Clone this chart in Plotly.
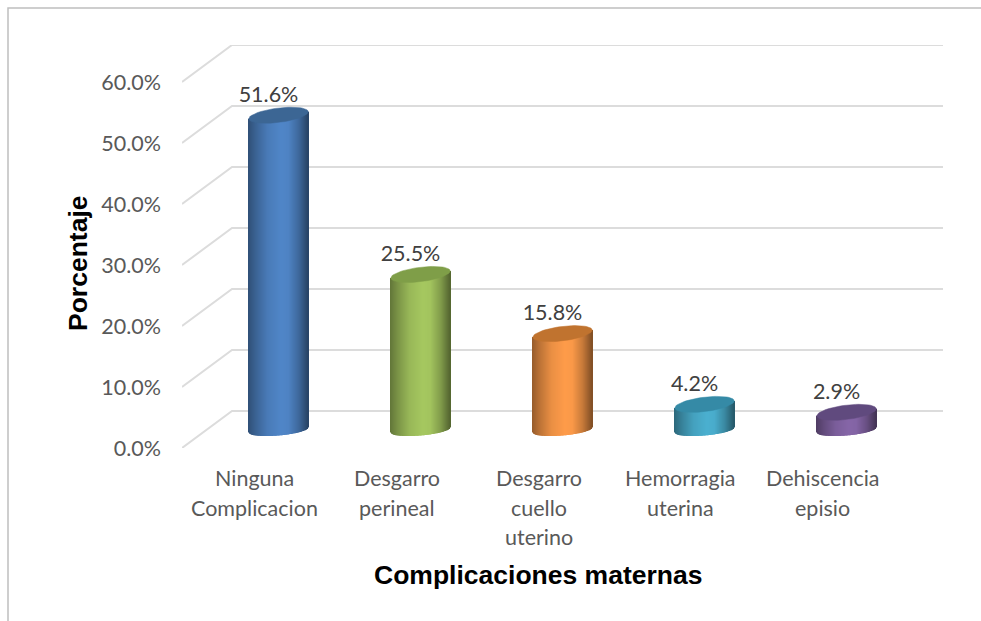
import numpy as np
import plotly.graph_objects as go

# values
categories = [
    ["Ninguna", "Complicacion"],
    ["Desgarro", "perineal"],
    ["Desgarro", "cuello", "uterino"],
    ["Hemorragia", "uterina"],
    ["Dehiscencia", "episio"],
]
values = [51.6, 25.5, 15.8, 4.2, 2.9]
tick_vals = [0, 10, 20, 30, 40, 50, 60]
tick_text = ["0.0%", "10.0%", "20.0%", "30.0%", "40.0%", "50.0%", "60.0%"]

body_rgb = [(80, 134, 200), (166, 200, 96), (255, 156, 74), (75, 176, 208), (134, 102, 168)]
cap_rgb = ["#3c6694", "#7f9e48", "#c0732f", "#358aa6", "#604a7e"]

# cylinder shading across the width (-1 left edge, 1 right edge)
shade_pos = [-1.0, -0.75, -0.35, 0.1, 0.35, 0.7, 1.0]
shade_val = [0.60, 0.74, 0.92, 1.00, 0.98, 0.78, 0.52]

# layout in pixels of the 981x621 picture
WIDTH, HEIGHT = 981, 621
PLOT_L, PLOT_R, PLOT_T, PLOT_B = 182, 943, 45, 448
PX_PER_CAT = 142.0
PX_PER_UNIT = 6.1
FIRST_CX = 278.5
DEPTH_X, DEPTH_Y = 50, 37   # floor depth of the 3D box
BASE_UP = 18                # cylinder base centre above the front floor edge
RX = 29.7
TEXT = "#595959"
GRID = "#dcdcdc"

x_range = [(PLOT_L - FIRST_CX) / PX_PER_CAT, (PLOT_R - FIRST_CX) / PX_PER_CAT]
y_range = [0, (PLOT_B - PLOT_T) / PX_PER_UNIT]
dx = 1 / PX_PER_CAT
dy = 1 / PX_PER_UNIT

fig = go.Figure()

# back wall grid with its diagonal on the floor side
shapes = []
for v in tick_vals:
    wall = v + DEPTH_Y * dy
    shapes.append(dict(
        type="path", xref="x", yref="y", layer="below",
        path=f"M {x_range[0]} {v} L {x_range[0] + DEPTH_X * dx} {wall} L {x_range[1]} {wall}",
        line=dict(color=GRID, width=2),
    ))

# page frame, left and top only
fx = lambda p: (p - PLOT_L) / (PLOT_R - PLOT_L)
fy = lambda p: (PLOT_B - p) / (PLOT_B - PLOT_T)
shapes.append(dict(
    type="path", xref="paper", yref="paper", layer="below",
    path=f"M {fx(8)} {fy(621)} L {fx(8)} {fy(8)} L {fx(981)} {fy(8)}",
    line=dict(color="#bfbfbf", width=1.5),
))

strip_u = np.linspace(-1, 1, int(2 * RX) + 1)
base = BASE_UP * dy

for i, (val, rgb, cap) in enumerate(zip(values, body_rgb, cap_rgb)):
    # body: one thin bar per pixel column, bottom following the lower ellipse
    shade = np.interp(strip_u, shade_pos, shade_val)
    colors = [f"rgb({int(rgb[0]*s)},{int(rgb[1]*s)},{int(rgb[2]*s)})" for s in shade]
    bottom = base + (2.5 * strip_u - 5.5 * np.sqrt(1 - strip_u**2)) * dy
    top = base + val + 3.5 * strip_u * dy
    fig.add_trace(go.Bar(
        x=i + strip_u * RX * dx,
        y=top - bottom,
        base=bottom,
        width=1.3 * dx,
        marker=dict(color=colors, line_width=0),
        hoverinfo="skip",
        showlegend=False,
    ))
    # top cap
    t = np.linspace(0, 2 * np.pi, 61)
    fig.add_trace(go.Scatter(
        x=i + RX * np.cos(t) * dx,
        y=base + val + (3.5 * np.cos(t) + 7.2 * np.sin(t)) * dy,
        mode="lines",
        fill="toself",
        fillcolor=cap,
        line=dict(color=cap, width=0.5),
        hoverinfo="skip",
        showlegend=False,
    ))

# data labels
fig.add_trace(go.Scatter(
    x=[i - 10 * dx for i in range(len(values))],
    y=[base + v + 18.5 * dy for v in values],
    mode="text",
    text=[f"{v:.1f}%" for v in values],
    textposition="middle center",
    textfont=dict(family="Lato", size=21.5, color="#404040"),
    hoverinfo="skip",
    showlegend=False,
))

annotations = []
# category labels, one annotation per line for Excel's wider line spacing
for i, lines in enumerate(categories):
    for j, line in enumerate(lines):
        annotations.append(dict(
            x=i - 24 * dx, y=0, xref="x", yref="y",
            text=line, showarrow=False,
            xanchor="center", yanchor="middle",
            yshift=-(30 + 29.5 * j),
            font=dict(family="Lato", size=21.5, color=TEXT),
        ))
annotations.append(dict(
    x=fx(538), y=fy(575), xref="paper", yref="paper",
    text="<b>Complicaciones maternas</b>", showarrow=False,
    xanchor="center", yanchor="middle",
    font=dict(family="Liberation Sans", size=26.5, color="#000000"),
))
annotations.append(dict(
    x=fx(78), y=fy(263), xref="paper", yref="paper",
    text="<b>Porcentaje</b>", showarrow=False, textangle=-90,
    xanchor="center", yanchor="middle",
    font=dict(family="Liberation Sans", size=26.5, color="#000000"),
))

fig.update_layout(
    width=WIDTH,
    height=HEIGHT,
    margin=dict(l=PLOT_L, r=WIDTH - PLOT_R, t=PLOT_T, b=HEIGHT - PLOT_B, pad=0, autoexpand=False),
    paper_bgcolor="white",
    plot_bgcolor="white",
    barmode="overlay",
    showlegend=False,
    shapes=shapes,
    annotations=annotations,
    xaxis=dict(range=x_range, visible=False, fixedrange=True),
    yaxis=dict(
        range=y_range,
        tickvals=tick_vals,
        ticktext=tick_text,
        showgrid=False,
        zeroline=False,
        showline=False,
        ticks="",
        ticklabelstandoff=20,
        tickfont=dict(family="Lato", size=21.5, color=TEXT),
        fixedrange=True,
    ),
)

# the page's default body margin would shift the chart by 8px
fig.write_html(
    "out.html",
    config=dict(displayModeBar=False),
    post_script="document.body.style.margin='0';document.body.style.overflow='hidden';",
)
